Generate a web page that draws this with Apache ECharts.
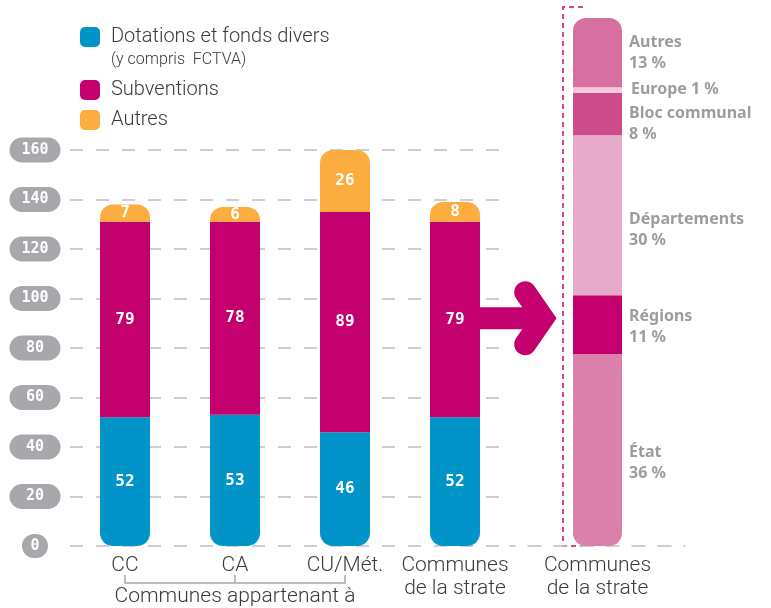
<!DOCTYPE html>
<html><head><meta charset="utf-8">
<script src="https://cdn.jsdelivr.net/npm/echarts@6/dist/echarts.min.js"></script>
<style>html,body{margin:0;padding:0;background:#fff}#c{width:771px;height:608px}</style>
</head><body><div id="c"></div>
<script>
// ---- data ----
const categories = ['CC', 'CA', 'CU/Mét.', 'Communes\nde la strate'];
const dotations = [52, 53, 46, 52];
const subventions = [79, 78, 89, 79];
const autres = [7, 6, 26, 8];
const yTicks = [0, 20, 40, 60, 80, 100, 120, 140, 160];
const rightCategory = ['Communes\nde la strate'];
const originNames = ['État', 'Régions', 'Départements', 'Bloc communal', 'Europe', 'Autres'];
const originShares = [36, 11, 30, 8, 1, 13];
const legendNames = ['Dotations et fonds divers', 'Subventions', 'Autres'];
const legendNote = '(y compris  FCTVA)';
const groupLabel = 'Communes appartenant à';
const groupedCount = 3;

// ---- styles ----
const leftColors = ['#0094C9', '#C4006E', '#FBAD3F'];
const originColors = ['#DA80AA', '#C4006E', '#E7AACA', '#CC4B8A', '#F3C9DB', '#D670A0'];
const originLabelOffsets = [[0, 13], [0, 2], [0, 15], [0, 10], [2, -1], [0, 0]];
const thinFont = 'Roboto, "Liberation Sans Narrow", sans-serif';
const thinWeight = 300;
const numFont = '"DejaVu Sans Mono", monospace';
const labelGrey = '#9C9DA1';
const gridGrey = '#BEBFC3';
const textColor = '#3a3a3a';
const R = 13;

const chart = echarts.init(document.getElementById('c'), null, { renderer: 'canvas' });
const total = originShares.reduce((a, b) => a + b, 0);

const leftData = [dotations, subventions, autres];
const leftSeries = legendNames.map((n, i) => ({
  type: 'bar', name: n, stack: 'a', xAxisIndex: 0, yAxisIndex: 0,
  data: leftData[i], barWidth: 50,
  itemStyle: {
    color: leftColors[i],
    borderRadius: i === 0 ? [0, 0, R, R] : (i === leftData.length - 1 ? [R, R, 0, 0] : 0)
  },
  label: {
    show: true, position: 'inside', color: '#fff',
    fontFamily: numFont, fontWeight: 'bold', fontSize: 16
  }
}));

const rightSeries = originNames.map((n, i) => ({
  type: 'bar', name: 'origine ' + n, stack: 'b', xAxisIndex: 1, yAxisIndex: 1,
  data: [originShares[i]], barWidth: 49,
  itemStyle: {
    color: originColors[i],
    borderRadius: i === 0 ? [0, 0, R, R] : (i === originNames.length - 1 ? [R, R, 0, 0] : 0)
  },
  label: {
    show: true, position: 'right', distance: 7, offset: originLabelOffsets[i],
    formatter: () => originShares[i] < 3 ? `${n} ${originShares[i]} %` : `${n}\n${originShares[i]} %`,
    color: labelGrey, fontFamily: '"Noto Sans", sans-serif', fontWeight: 'bold',
    fontSize: 16, lineHeight: 21, align: 'left'
  }
}));

const catLabel = {
  interval: 0, fontFamily: thinFont, fontWeight: thinWeight, fontSize: 21, lineHeight: 23,
  color: textColor, margin: 8
};
const legendText = { fontFamily: thinFont, fontWeight: thinWeight, fontSize: 20, color: textColor, padding: [0, 0, 0, 6] };

const option = {
  animation: false,
  backgroundColor: '#fff',
  legend: [
    {
      data: [legendNames[0]], left: 80, top: 27, orient: 'vertical', padding: 0,
      icon: 'roundRect', itemWidth: 20, itemHeight: 20, selectedMode: false,
      textStyle: legendText
    },
    {
      data: legendNames.slice(1), left: 80, top: 80, orient: 'vertical', itemGap: 10, padding: 0,
      icon: 'roundRect', itemWidth: 20, itemHeight: 20, selectedMode: false,
      textStyle: legendText
    }
  ],
  grid: [
    { left: 70, right: 261, top: 150, bottom: 62 },
    { left: 510, right: 86, top: 18, bottom: 62 }
  ],
  xAxis: [
    {
      type: 'category', gridIndex: 0, data: categories,
      axisLine: { show: false }, axisTick: { show: false }, axisLabel: catLabel
    },
    {
      type: 'category', gridIndex: 1, data: rightCategory,
      axisLine: { show: true, lineStyle: { color: gridGrey, width: 1.5, type: [13, 13], dashOffset: 8 } },
      axisTick: { show: false }, axisLabel: catLabel
    }
  ],
  yAxis: [
    {
      type: 'value', gridIndex: 0, min: yTicks[0], max: yTicks[yTicks.length - 1],
      interval: yTicks[1] - yTicks[0],
      axisLine: { show: false }, axisTick: { show: false },
      splitLine: { show: true, lineStyle: { color: gridGrey, width: 1.5, type: [13, 13] } },
      axisLabel: {
        margin: 35, align: 'center', verticalAlign: 'middle',
        formatter: v => v === 0 ? '{z|0}' : '{p|' + v + '}',
        rich: {
          p: {
            width: 51, height: 25, lineHeight: 25, align: 'center', borderRadius: 12.5,
            backgroundColor: '#A7A8AC', color: '#fff', fontFamily: numFont,
            fontWeight: 'bold', fontSize: 15
          },
          z: {
            width: 26, height: 24, lineHeight: 24, align: 'center', borderRadius: 12,
            backgroundColor: '#A7A8AC', color: '#fff', fontFamily: numFont,
            fontWeight: 'bold', fontSize: 15
          }
        }
      }
    },
    {
      type: 'value', gridIndex: 1, min: 0, max: total, show: false,
      splitLine: { show: false }
    }
  ],
  series: leftSeries.concat(rightSeries)
};
chart.setOption(option);

// ---- decorations derived from the axes ----
const base = chart.convertToPixel({ yAxisIndex: 0 }, 0);
const cx = categories.map((c, i) => chart.convertToPixel({ xAxisIndex: 0 }, i));
const rx = chart.convertToPixel({ xAxisIndex: 1 }, 0);
const rTop = chart.convertToPixel({ yAxisIndex: 1 }, total);
const bx = rx - 49 / 2 - 10;          // dashed bracket x
const arrowY = chart.convertToPixel({ yAxisIndex: 0 }, 92);
const tipOuter = bx - 6.5;
const tX = tipOuter - 13.3;
const shaftStart = cx[3] + 20;
const magenta = leftColors[1];

const bracketY = base + 37;
const graphics = [
  {
    type: 'polyline', silent: true,
    shape: { points: [[cx[0], bracketY - 8], [cx[0], bracketY], [cx[groupedCount - 1], bracketY], [cx[groupedCount - 1], bracketY - 8]] },
    style: { stroke: '#A7A8AC', lineWidth: 1.5, fill: null }
  },
  {
    type: 'line', silent: true,
    shape: { x1: cx[1], y1: bracketY - 8, x2: cx[1], y2: bracketY },
    style: { stroke: '#A7A8AC', lineWidth: 1.5 }
  },
  {
    type: 'text', silent: true,
    x: (cx[0] + cx[groupedCount - 1]) / 2, y: bracketY + 14,
    style: { text: groupLabel, fontFamily: thinFont, fontWeight: thinWeight, fontSize: 21, fill: textColor, align: 'center', verticalAlign: 'middle' }
  },
  {
    type: 'text', silent: true, x: 111, y: 60,
    style: { text: legendNote, fontFamily: thinFont, fontWeight: thinWeight, fontSize: 16, fill: textColor, align: 'left', verticalAlign: 'middle' }
  },
  {
    type: 'polyline', silent: true,
    shape: { points: [[bx + 20, rTop - 11], [bx, rTop - 11], [bx, base], [bx + 20, base]] },
    style: { stroke: '#E0418C', lineWidth: 2, lineDash: [5, 4], fill: null }
  },
  {
    type: 'line', silent: true,
    shape: { x1: shaftStart, y1: arrowY, x2: tX - 4, y2: arrowY },
    style: { stroke: magenta, lineWidth: 22, lineCap: 'butt' }
  },
  {
    type: 'polyline', silent: true,
    shape: { points: [[tX - 18, arrowY - 26], [tX, arrowY], [tX - 18, arrowY + 26]] },
    style: { stroke: magenta, lineWidth: 22, lineCap: 'round', lineJoin: 'miter', fill: null }
  }
];
chart.setOption({ graphic: graphics });
</script>
</body></html>
